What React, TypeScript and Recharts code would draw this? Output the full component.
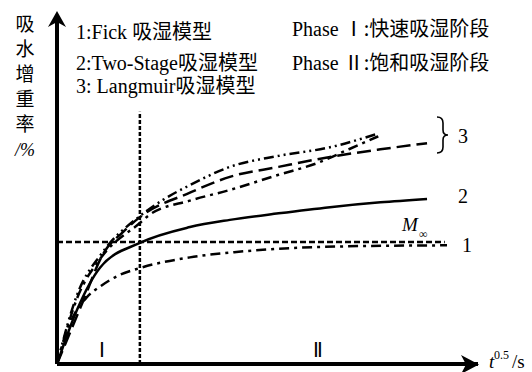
import { Customized, Line, LineChart, ReferenceLine, XAxis, YAxis } from 'recharts'

// t^0.5 (arbitrary units) vs mass gain (arbitrary units)
const fickData = [
  { t: 0, m: 0 },
  { t: 0.3, m: 1.2 },
  { t: 0.68, m: 1.95 },
  { t: 0.97, m: 2.25 },
  { t: 1.4, m: 2.58 },
  { t: 1.87, m: 2.79 },
  { t: 3, m: 3.1 },
  { t: 4, m: 3.25 },
  { t: 5, m: 3.35 },
  { t: 6.5, m: 3.42 },
  { t: 8.8, m: 3.45 },
]

const twoStageData = [
  { t: 0, m: 0 },
  { t: 0.45, m: 1.57 },
  { t: 0.97, m: 2.8 },
  { t: 1.87, m: 3.52 },
  { t: 3, m: 3.98 },
  { t: 3.9, m: 4.19 },
  { t: 5, m: 4.38 },
  { t: 6.16, m: 4.56 },
  { t: 7.3, m: 4.7 },
  { t: 8.35, m: 4.8 },
]

const langmuirDash = [
  { t: 0, m: 0 },
  { t: 0.59, m: 1.83 },
  { t: 1.04, m: 3.2 },
  { t: 1.5, m: 3.85 },
  { t: 1.87, m: 4.27 },
  { t: 3, m: 4.98 },
  { t: 3.9, m: 5.44 },
  { t: 5, m: 5.73 },
  { t: 6.16, m: 6.02 },
  { t: 7.3, m: 6.24 },
  { t: 8.35, m: 6.42 },
]

const langmuirUpper = [
  { t: 0, m: 0 },
  { t: 0.45, m: 2.0 },
  { t: 1.0, m: 3.2 },
  { t: 1.87, m: 4.3 },
  { t: 2.39, m: 4.77 },
  { t: 3, m: 5.2 },
  { t: 3.9, m: 5.73 },
  { t: 5, m: 6.05 },
  { t: 6.16, m: 6.3 },
  { t: 7.2, m: 6.68 },
]

const langmuirLower = [
  { t: 0, m: 0 },
  { t: 0.45, m: 1.9 },
  { t: 1.0, m: 3.1 },
  { t: 1.87, m: 4.1 },
  { t: 2.1, m: 4.35 },
  { t: 3, m: 4.75 },
  { t: 3.9, m: 5.06 },
  { t: 5, m: 5.5 },
  { t: 5.87, m: 5.84 },
  { t: 6.6, m: 6.25 },
  { t: 7.25, m: 6.62 },
]

const mInf = 3.55
const phaseSplit = 1.87
const phaseSplitTop = 7.33
const mInfEnd = 8.75

const yLabelChars = ['吸', '水', '增', '重', '率']
// [latin part, chinese part]
const legendLines = [
  ['1:Fick ', '吸湿模型'],
  ['2:Two-Stage', '吸湿模型'],
  ['3: Langmuir', '吸湿模型'],
]
const legendBaselines = [39, 70, 93]
// [latin, numeral, chinese]
const phaseLines = [
  ['Phase ', 'Ⅰ', ':快速吸湿阶段'],
  ['Phase ', 'Ⅱ', ':饱和吸湿阶段'],
]

const latin = '"Liberation Serif", serif'
const cjk = '"Noto Sans CJK SC", sans-serif'

function Annotations() {
  return (
    <g fill="#000" style={{ fontFamily: latin }}>
      <path d="M48,27 L57,11 L66,27 L57,22 Z" />
      <path d="M461,355 L479,364.5 L461,374 L466,364.5 Z" />

      {yLabelChars.map((c, i) => (
        <text key={c} x={25} y={31 + i * 25} fontSize={19} textAnchor="middle" style={{ fontFamily: cjk }}>
          {c}
        </text>
      ))}
      <text x={25} y={156} fontSize={18} fontStyle="italic" textAnchor="middle">
        /%
      </text>

      {legendLines.map(([a, b], i) => (
        <text key={a} x={76} y={legendBaselines[i]} fontSize={20}>
          <tspan style={{ fontFamily: latin }}>{a}</tspan>
          <tspan style={{ fontFamily: cjk }}>{b}</tspan>
        </text>
      ))}
      {phaseLines.map(([a, n, b], i) => (
        <text key={n} x={292} y={36 + i * 34} fontSize={20}>
          <tspan style={{ fontFamily: latin }}>{a}</tspan>
          <tspan style={{ fontFamily: cjk }}>{n}</tspan>
          <tspan style={{ fontFamily: cjk }}>{b}</tspan>
        </text>
      ))}

      <text x={402} y={231} fontSize={19} fontStyle="italic">
        M
      </text>
      <text x={419} y={238} fontSize={12}>
        ∞
      </text>

      <path d="M437,117 q6,0 6,6 v7 q0,5 5,5 q-5,0 -5,5 v7 q0,6 -6,6" fill="none" stroke="#000" strokeWidth={1.6} />
      <text x={458} y={143} fontSize={20}>3</text>
      <text x={458} y={203} fontSize={20}>2</text>
      <text x={462} y={252} fontSize={20}>1</text>

      <text x={102} y={357} fontSize={20} textAnchor="middle">Ⅰ</text>
      <text x={318} y={357} fontSize={20} textAnchor="middle">Ⅱ</text>

      <text x={489} y={368} fontSize={19} fontStyle="italic">t</text>
      <text x={494} y={359} fontSize={12}>0.5</text>
      <text x={512} y={368} fontSize={19}>/s</text>
    </g>
  )
}

export default function App() {
  return (
    <div style={{ position: 'absolute', left: 0, top: 0, width: 532, height: 372, background: '#fff' }}>
      <LineChart width={532} height={372} margin={{ top: 20, right: 54, bottom: 8, left: 57 }}>
        <XAxis type="number" dataKey="t" domain={[0, 9.5]} allowDataOverflow hide />
        <YAxis type="number" dataKey="m" domain={[0, 10]} allowDataOverflow hide />
        <ReferenceLine
          segment={[{ x: 0, y: mInf }, { x: mInfEnd, y: mInf }]}
          stroke="#000"
          strokeWidth={2.5}
          strokeDasharray="6 3"
        />
        <ReferenceLine
          segment={[{ x: phaseSplit, y: 0 }, { x: phaseSplit, y: phaseSplitTop }]}
          stroke="#000"
          strokeWidth={2.5}
          strokeDasharray="4 2"
        />
        <ReferenceLine x={0} stroke="#000" strokeWidth={4} />
        <ReferenceLine y={0} stroke="#000" strokeWidth={4} />
        <Line data={fickData} dataKey="m" type="monotone" dot={false} stroke="#000" strokeWidth={2.5} strokeDasharray="10 5 3 5" isAnimationActive={false} />
        <Line data={twoStageData} dataKey="m" type="monotone" dot={false} stroke="#000" strokeWidth={2.5} isAnimationActive={false} />
        <Line data={langmuirDash} dataKey="m" type="monotone" dot={false} stroke="#000" strokeWidth={2.5} strokeDasharray="14 6" isAnimationActive={false} />
        <Line data={langmuirUpper} dataKey="m" type="monotone" dot={false} stroke="#000" strokeWidth={2.5} strokeDasharray="10 4 2 4 2 4" isAnimationActive={false} />
        <Line data={langmuirLower} dataKey="m" type="monotone" dot={false} stroke="#000" strokeWidth={2.5} strokeDasharray="10 5 3 5" isAnimationActive={false} />
        <Customized component={Annotations} />
      </LineChart>
    </div>
  )
}
